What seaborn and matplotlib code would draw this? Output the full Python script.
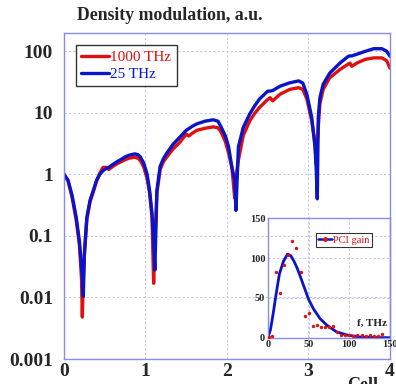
import numpy as np
import pandas as pd
import seaborn as sns
import matplotlib.pyplot as plt
from matplotlib.lines import Line2D

# main curves: density modulation vs cell number
cell = [0.0, 0.05, 0.10, 0.15, 0.19, 0.215, 0.225, 0.237, 0.25, 0.28, 0.32, 0.36,
        0.40, 0.44, 0.48, 0.52, 0.55, 0.60, 0.65, 0.70, 0.75, 0.80, 0.87, 0.91, 0.94,
        0.98, 1.02, 1.05, 1.08, 1.10, 1.115, 1.14, 1.18, 1.22, 1.26, 1.34, 1.42, 1.50,
        1.53, 1.58, 1.63, 1.73, 1.83, 1.89, 1.93, 1.98, 2.02, 2.06, 2.095, 2.11, 2.14,
        2.20, 2.28, 2.34, 2.40, 2.50, 2.53, 2.56, 2.65, 2.77, 2.88, 2.93, 2.98, 3.04,
        3.08, 3.095, 3.108, 3.12, 3.14, 3.18, 3.26, 3.39, 3.49, 3.51, 3.53, 3.60,
        3.70, 3.80, 3.90, 3.96, 4.00]
dens_1000 = [1.0, 0.78, 0.42, 0.18, 0.07, 0.02, 0.0048, 0.02, 0.05, 0.18, 0.36, 0.52,
             0.78, 1.05, 1.3, 1.3, 1.2, 1.35, 1.48, 1.6, 1.73, 1.83, 1.9, 1.82, 1.65,
             1.3, 0.85, 0.5, 0.2, 0.017, 0.08, 0.5, 1.2, 1.6, 1.9, 2.6, 3.3, 4.5,
             4.2, 4.7, 5.2, 5.6, 5.9, 5.7, 4.8, 3.4, 2.2, 1.3, 0.41, 0.9, 1.7,
             4.3, 7.4, 9.8, 12.2, 16.5, 17.6, 15.6, 20.0, 24.0, 25.6, 24.0, 16.8, 7.4,
             3.2, 1.5, 3.0, 5.8, 14.0, 24.0, 37.0, 51.0, 62.0, 64.0, 57.0, 65.0,
             74.0, 78.0, 78.0, 70.0, 53.0]
dens_25 = [1.0, 0.8, 0.45, 0.2, 0.08, 0.03, 0.02, 0.0104, 0.05, 0.2, 0.38, 0.55,
           0.8, 1.0, 1.15, 1.25, 1.3, 1.45, 1.6, 1.75, 1.92, 2.05, 2.15, 2.08, 1.9,
           1.5, 1.0, 0.55, 0.23, 0.08, 0.028, 0.55, 1.35, 1.8, 2.2, 3.1, 4.0, 5.2,
           5.5, 6.1, 6.6, 7.3, 7.7, 7.3, 5.8, 4.2, 2.8, 1.3, 0.8, 0.26, 2.8,
           5.8, 9.6, 13.0, 16.8, 22.5, 22.5, 23.0, 27.0, 30.7, 33.0, 30.5, 20.0, 8.4,
           2.8, 1.2, 0.4, 8.4, 17.6, 29.0, 44.0, 65.0, 83.0, 84.0, 84.0, 90.0,
           100.0, 110.0, 110.0, 100.0, 83.0]

# inset: PCI gain vs frequency
f_fit = [0, 3, 6, 10, 14, 19, 24, 28, 32, 36, 40, 45, 50, 56, 64, 72, 84, 97, 113, 130, 150]
gain_fit = [0, 10, 28, 55, 80, 96, 105, 103, 96, 87, 76, 62, 48, 36, 24, 16, 7.5, 3.4, 0.8, 0.2, 0]
f_pts = [1, 5, 10, 15, 20, 25, 30, 35, 40, 45, 50, 55, 60, 65, 70, 75, 80, 85, 90,
         95, 100, 105, 110, 115, 120, 125, 130, 135, 140]
gain_pts = [1, 2, 82, 56, 91, 104, 122, 113, 82, 27, 31, 15, 16, 13, 14, 13, 15, 7, 4,
            3, 3, 2, 3, 4, 2, 3, 2, 2, 5]

sns.set_theme(style='white')
plt.rcParams['font.family'] = ['Liberation Serif', 'DejaVu Serif']

RED = '#e01010'
BLUE = '#0a14c8'
GRID = '#c6c6f2'
SPINE = '#8a8aec'

fig = plt.figure(figsize=(3.96, 3.84), dpi=100)
ax = fig.add_axes([0.1616, 0.0651, 0.8232, 0.8497])

df = pd.DataFrame({'cell': cell + cell,
                   'dens': dens_1000 + dens_25,
                   'series': ['1000 THz'] * len(cell) + ['25 THz'] * len(cell)})
sns.lineplot(data=df, x='cell', y='dens', hue='series',
             palette={'1000 THz': RED, '25 THz': BLUE}, linewidth=2.4,
             ax=ax, legend=False, estimator=None)

ax.set_yscale('log')
ax.set_ylim(0.001, 200)
ax.set_xlim(0, 4)
ax.set_xticks([0, 1, 2, 3, 4])
ax.set_xticklabels(['0', '1', '2', '3', '4'])
ax.set_yticks([0.001, 0.01, 0.1, 1, 10, 100])
ax.set_yticklabels(['0.001', '0.01', '0.1', '1', '10', '100'])
ax.minorticks_off()
ax.tick_params(axis='y', length=0, labelsize=14, pad=8)
ax.tick_params(axis='x', length=0, labelsize=14, pad=3)
for lab in ax.get_xticklabels() + ax.get_yticklabels():
    lab.set_fontweight('bold')
ax.set_xlabel('')
ax.set_ylabel('')
ax.grid(True, color=GRID, linestyle=(0, (2.5, 2)), linewidth=0.7)
for sp in ax.spines.values():
    sp.set_color(SPINE)
    sp.set_linewidth(1.0)

handles = [Line2D([], [], color=RED, lw=2.4), Line2D([], [], color=BLUE, lw=2.4)]
leg = ax.legend(handles, ['1000 THz', '25 THz'], loc='upper left',
                bbox_to_anchor=(0.037, 0.962), borderaxespad=0, fontsize=11,
                frameon=True, fancybox=False, handlelength=1.8, handletextpad=0.1,
                borderpad=0.35, labelspacing=0.2)
leg.get_frame().set_edgecolor('black')
leg.get_frame().set_linewidth(1.0)
for txt, c in zip(leg.get_texts(), [RED, BLUE]):
    txt.set_color(c)

fig.text(0.195, 0.96, 'Density modulation, a.u.', fontsize=12.8,
         fontweight='bold', ha='left', va='center')
fig.text(0.915, -0.005, 'Cell', fontsize=13, fontweight='bold',
         ha='center', va='center')

# inset
ins = fig.add_axes([0.6768, 0.1206, 0.308, 0.3109])
ins.patch.set_alpha(0)
sns.lineplot(x=f_fit, y=gain_fit, color=BLUE, linewidth=2.0, ax=ins, estimator=None)
sns.scatterplot(x=f_pts, y=gain_pts, color=RED, s=6, linewidth=0, ax=ins, zorder=3)
ins.set_xlim(0, 150)
ins.set_ylim(0, 150)
ins.set_xticks([0, 50, 100, 150])
ins.set_yticks([0, 50, 100, 150])
ins.tick_params(length=0, labelsize=7.5, pad=2)
for lab in ins.get_xticklabels() + ins.get_yticklabels():
    lab.set_fontweight('bold')
ins.grid(True, color=GRID, linestyle=(0, (2.5, 2)), linewidth=0.7)
for sp in ins.spines.values():
    sp.set_color(SPINE)
    sp.set_linewidth(1.0)
ins.text(146, 18, 'f, THz', fontsize=8, fontweight='bold', ha='right', va='center')
h = Line2D([], [], color=BLUE, lw=1.8, marker='o', markersize=2.5,
           markerfacecolor=RED, markeredgecolor=RED)
leg2 = ins.legend([h], ['PCI gain'], loc='upper right', bbox_to_anchor=(0.85, 0.877),
                  borderaxespad=0, fontsize=7.5, frameon=True, fancybox=False,
                  handlelength=1.3, handletextpad=0.1, borderpad=0.25)
leg2.get_frame().set_edgecolor('black')
leg2.get_frame().set_linewidth(0.8)
leg2.get_texts()[0].set_color(RED)

fig.savefig('out.png', dpi=100)
